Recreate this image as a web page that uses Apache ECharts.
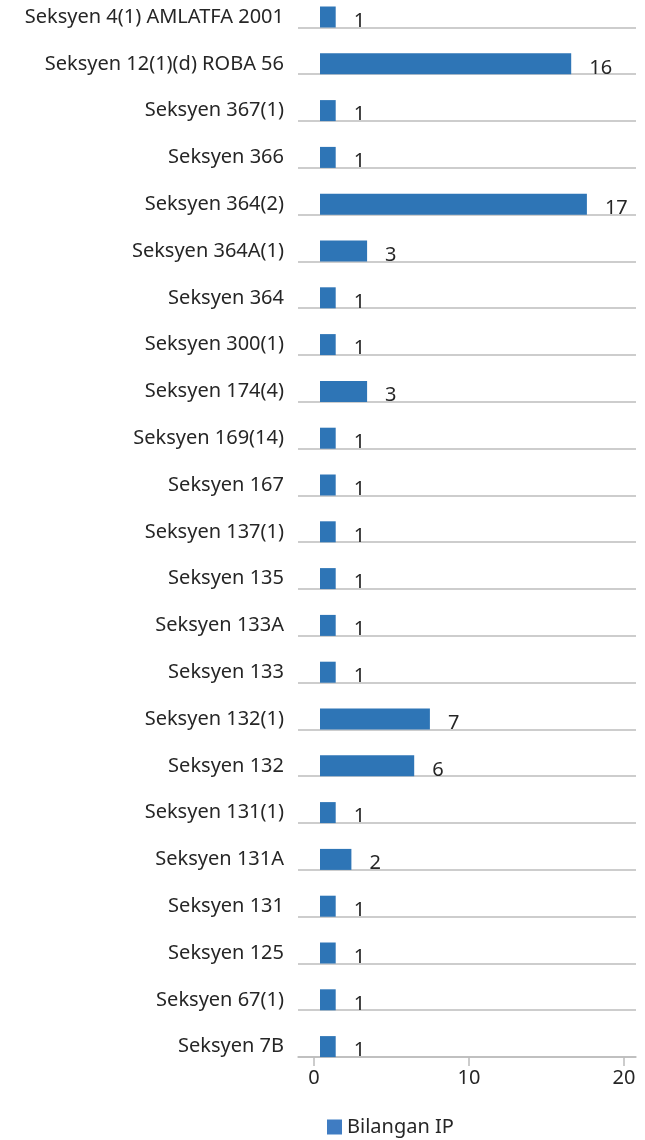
<!DOCTYPE html>
<html>
<head>
<meta charset="utf-8">
<script src="https://cdn.jsdelivr.net/npm/echarts@6/dist/echarts.min.js"></script>
<style>
    html, body { margin: 0; padding: 0; background: #fff; }
    #chart { width: 645px; height: 1140px; }
</style>
</head>
<body>
<div id="chart"></div>
<script>
// data, top to bottom as in the picture
var sections = [
    'Seksyen 4(1) AMLATFA 2001', 'Seksyen 12(1)(d) ROBA 56', 'Seksyen 367(1)',
    'Seksyen 366', 'Seksyen 364(2)', 'Seksyen 364A(1)', 'Seksyen 364',
    'Seksyen 300(1)', 'Seksyen 174(4)', 'Seksyen 169(14)', 'Seksyen 167',
    'Seksyen 137(1)', 'Seksyen 135', 'Seksyen 133A', 'Seksyen 133',
    'Seksyen 132(1)', 'Seksyen 132', 'Seksyen 131(1)', 'Seksyen 131A',
    'Seksyen 131', 'Seksyen 125', 'Seksyen 67(1)', 'Seksyen 7B'
];
var bilanganIP = [1, 16, 1, 1, 17, 3, 1, 1, 3, 1, 1, 1, 1, 1, 1, 7, 6, 1, 2, 1, 1, 1, 1];
var xTicks = [0, 10, 20];

var font = 'Noto Sans';
var textColor = '#262626';
var lineColor = '#bcbcbc';
var barColor = '#2e75b6';

var chart = echarts.init(document.getElementById('chart'));

var option = {
    animation: false,
    textStyle: { fontFamily: font },
    legend: {
        data: [{ name: 'Bilangan IP', itemStyle: { color: '#3f7cc2' } }],
        left: 327,
        top: 1117,
        icon: 'rect',
        itemWidth: 15,
        itemHeight: 15,
        itemGap: 6,
        padding: 0,
        textStyle: { fontFamily: font, fontSize: 20, lineHeight: 20, color: textColor }
    },
    grid: [
        // gridlines
        { left: 298, right: 9, top: -19.4, bottom: 83, outerBoundsMode: 'none' },
        // visible value axis
        { left: 314, right: 21, top: -19.4, bottom: 83, outerBoundsMode: 'none' },
        // bars
        { left: 320, right: 11, top: -6.4, bottom: 70, outerBoundsMode: 'none' }
    ],
    xAxis: [
        {
            gridIndex: 0, type: 'value', min: 0, max: 20,
            axisLine: { show: true, lineStyle: { color: lineColor, width: 1.5 } },
            axisTick: { show: false }, axisLabel: { show: false }, splitLine: { show: false }
        },
        {
            gridIndex: 1, type: 'value', min: xTicks[0], max: xTicks[xTicks.length - 1], interval: 10,
            axisLine: { show: false },
            axisTick: { show: true, length: 9, lineStyle: { color: lineColor, width: 1.5 } },
            axisLabel: { margin: 11, fontFamily: font, fontSize: 20, color: textColor },
            splitLine: { show: false }
        },
        {
            gridIndex: 2, type: 'value', min: 0, max: 20, show: false
        }
    ],
    yAxis: [
        {
            gridIndex: 0, type: 'category', data: sections, inverse: true,
            axisLine: { show: false }, axisTick: { show: false }, axisLabel: { show: false },
            splitLine: { show: true, lineStyle: { color: lineColor, width: 1.5 } }
        },
        {
            gridIndex: 1, type: 'category', data: sections, inverse: true, show: false
        },
        {
            gridIndex: 2, type: 'category', data: sections, inverse: true,
            axisLine: { show: false }, axisTick: { show: false },
            splitLine: { show: false },
            axisLabel: {
                margin: 36,
                padding: [5, 0, 0, 0],
                fontFamily: font,
                fontSize: 20,
                color: textColor
            }
        }
    ],
    series: [
        {
            name: 'Bilangan IP',
            type: 'bar',
            xAxisIndex: 2,
            yAxisIndex: 2,
            data: bilanganIP,
            barWidth: 21,
            itemStyle: { color: barColor },
            label: {
                show: true,
                position: 'right',
                distance: 18,
                offset: [0, 4],
                fontFamily: font,
                fontSize: 20,
                color: textColor
            }
        }
    ]
};

chart.setOption(option);
</script>
</body>
</html>
